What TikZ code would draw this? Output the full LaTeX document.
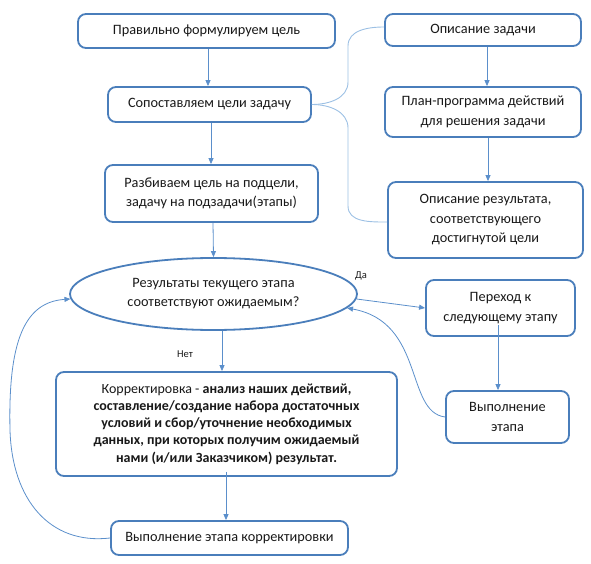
\documentclass[tikz,border=0pt]{standalone}
\usepackage{fontspec}
\setmainfont{Carlito}
\usetikzlibrary{arrows.meta,shapes.geometric}
\definecolor{boxblue}{HTML}{4A7EBB}
\definecolor{arrblue}{HTML}{5B8FCB}
\definecolor{braceblue}{HTML}{9CC0E4}
\begin{document}
\begin{tikzpicture}[x=1pt,y=-1pt,
  box/.style={draw=boxblue,line width=1.8pt,rounded corners=8pt,fill=white,
    align=center,inner sep=2pt,font=\fontsize{14.3}{19.5}\selectfont,text=black!90},
  oval/.style={draw=boxblue,line width=1.8pt,ellipse,inner sep=0pt,align=center,
    font=\fontsize{14.3}{19}\selectfont,text=black!90},
  arr/.style={draw=arrblue,line width=0.8pt,-{Triangle[length=6pt,width=5pt]}},
  brace/.style={draw=braceblue,line width=0.9pt},
  lbl/.style={font=\fontsize{10.5}{12}\selectfont,text=black!90}]
\useasboundingbox (0,0) rectangle (591,564);
\node[box,minimum width=257pt,minimum height=34pt] (b1) at (206.5,31) {Правильно формулируем цель};
\node[box,minimum width=203pt,minimum height=35pt] (b2) at (209.5,104.5) {Сопоставляем цели задачу};
\node[box,minimum width=213pt,minimum height=57pt] (b3) at (211.5,193.5) {Разбиваем цель на подцели,\\задачу на подзадачи(этапы)};
\node[box,minimum width=196pt,minimum height=32pt] (r1) at (483,30) {Описание задачи};
\node[box,minimum width=196pt,minimum height=50pt] (r2) at (483,112) {План-программа действий\\для решения задачи};
\node[box,minimum width=195pt,minimum height=76pt] (r3) at (485.5,220) {Описание результата,\\соответствующего\\достигнутой цели};
\node[oval,minimum width=287pt,minimum height=72pt] (el) at (213.5,294) {Результаты текущего этапа\\соответствуют ожидаемым?};
\node[box,minimum width=341pt,minimum height=104pt,font=\fontsize{14}{17.3}\selectfont] (b4) at (226.5,424)
  {Корректировка - \textbf{анализ наших действий,}\\\textbf{составление/создание набора достаточных}\\\textbf{условий и сбор/уточнение необходимых}\\\textbf{данных, при которых получим ожидаемый}\\\textbf{нами (и/или Заказчиком) результат.}};
\node[box,minimum width=237pt,minimum height=34pt] (b5) at (229.5,538) {Выполнение этапа корректировки};
\node[box,minimum width=149pt,minimum height=56pt] (p) at (500.5,308) {Переход к\\следующему этапу};
\node[box,minimum width=123pt,minimum height=52pt] (v) at (507.5,417) {Выполнение\\этапа};
\node[lbl] (da) at (361,276) {Да};
\node[lbl] (net) at (185,354) {Нет};
% arrows
\draw[arr] ([xshift=1.5pt]b1.south) -- ([xshift=-1.5pt]b2.north);
\draw[arr] ([xshift=1.5pt]b2.south) -- ([xshift=-0.5pt]b3.north);
\draw[arr] ([xshift=1.5pt]b3.south) -- (el.north);
\draw[arr] ([xshift=8.5pt]el.south) -- ([xshift=-4.5pt]b4.north);
\draw[arr] ([xshift=-0.5pt,yshift=5pt]b4.south) -- ([xshift=-3.5pt]b5.north);
\draw[arr] ([xshift=4pt]r1.south) -- ([xshift=4pt]r2.north);
\draw[arr] ([xshift=5pt]r2.south) -- ([xshift=2.5pt]r3.north);
\draw[arr] ([xshift=-2.5pt,yshift=12pt]p.south) -- ([xshift=-9.5pt]v.north);
\draw[arr] (el.-2) -- (p.west);
\draw[arr] (v.west) .. controls (405,412) and (425,322) .. (el.-6.5);
\draw[arr] (b5.west) .. controls (50,545) and (12,500) .. (10,430)
  .. controls (8,340) and (25,302) .. (el.182);
% brace
\draw[brace] (b2.east) to[out=0,in=-90] (348,82) -- (348,46) to[out=90,in=180] ([yshift=3pt]r1.west);
\draw[brace] (b2.east) to[out=0,in=90] (348,128) -- (348,206) to[out=-90,in=180] ([yshift=-2pt]r3.west);
\end{tikzpicture}
\end{document}
